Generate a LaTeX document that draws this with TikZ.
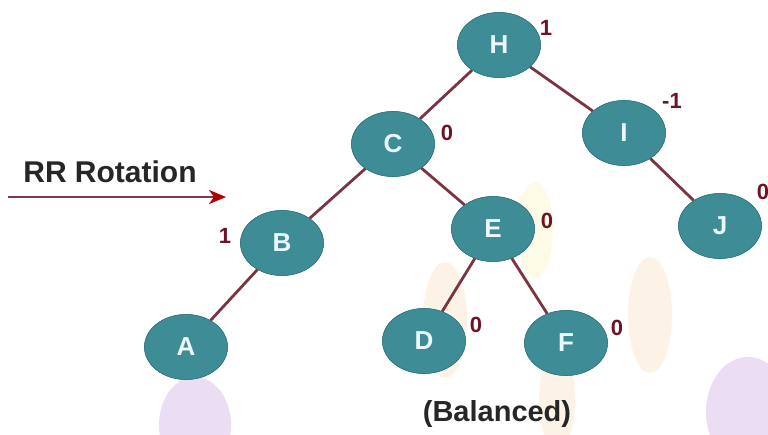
\documentclass[tikz,border=0pt]{standalone}
\usepackage{fontspec}
\setmainfont{Liberation Sans}
\usetikzlibrary{shapes.geometric,arrows.meta}
\definecolor{nodefill}{HTML}{3E8C96}
\definecolor{edgecol}{HTML}{7A3543}
\definecolor{labcol}{HTML}{6E1426}
\definecolor{arrowcol}{HTML}{7C3B4A}
\definecolor{wmorange}{HTML}{FBEEDC}
\definecolor{wmyellow}{HTML}{FDFBE4}
\definecolor{wmpurple}{HTML}{EADDF4}
\tikzset{
  tnode/.style={ellipse, fill=nodefill, draw=nodefill!85!black, line width=0.6pt,
    minimum width=83pt, minimum height=65pt, inner sep=0pt,
    text=white!92!cyan, font=\fontsize{26}{28}\selectfont\bfseries},
  tedge/.style={draw=edgecol, line width=2.8pt},
  bal/.style={text=labcol, font=\fontsize{22}{24}\selectfont\bfseries, inner sep=0pt},
  plain/.style={text=black!85, font=\fontsize{30}{32}\selectfont\bfseries, inner sep=0pt}
}
\begin{document}
\begin{tikzpicture}[x=1pt,y=-1pt]
\useasboundingbox[fill=white] (0,0) rectangle (768,435);
% faint watermark shapes
\fill[wmorange,opacity=0.7] (445,320) ellipse (22 and 58);
\fill[wmorange,opacity=0.7] (557,400) ellipse (18 and 50);
\fill[wmorange,opacity=0.7] (650,315) ellipse (22 and 58);
\fill[wmyellow,opacity=0.9] (535,230) ellipse (18 and 48);
\fill[wmpurple] (195,425) ellipse (36 and 48);
\fill[wmpurple] (748,412) ellipse (42 and 55);
% nodes
\node[tnode] (H) at (499,45) {H};
\node[tnode] (C) at (393,144) {C};
\node[tnode] (I) at (624,133) {I};
\node[tnode] (B) at (282,243) {B};
\node[tnode] (E) at (493,229) {E};
\node[tnode] (J) at (720,226) {J};
\node[tnode] (A) at (186,347) {A};
\node[tnode] (D) at (424,341) {D};
\node[tnode] (F) at (566,343) {F};
% edges
\draw[tedge] (H) -- (C);
\draw[tedge] (H) -- (I);
\draw[tedge] (C) -- (B);
\draw[tedge] (C) -- (E);
\draw[tedge] (I) -- (J);
\draw[tedge] (B) -- (A);
\draw[tedge] (E) -- (D);
\draw[tedge] (E) -- (F);
% redraw nodes on top of edges
\node[tnode] at (H) {H};
\node[tnode] at (C) {C};
\node[tnode] at (I) {I};
\node[tnode] at (B) {B};
\node[tnode] at (E) {E};
\node[tnode] at (J) {J};
\node[tnode] at (A) {A};
\node[tnode] at (D) {D};
\node[tnode] at (F) {F};
% balance factors
\node[bal] (bH) at (546,28) {1};
\node[bal] (bC) at (447,133) {0};
\node[bal] (bI) at (672,101) {-1};
\node[bal] (bB) at (225,236) {1};
\node[bal] (bE) at (547,221) {0};
\node[bal] (bJ) at (763,192) {0};
\node[bal] (bD) at (476,325) {0};
\node[bal] (bF) at (617,328) {0};
% texts
\node[plain] (rr) at (110,172) {RR Rotation};
\node[plain, font=\fontsize{29}{31}\selectfont\bfseries] (balanced) at (497,414) {(Balanced)};
% arrow
\coordinate (a0) at (8,197);
\coordinate (a1) at (226,197);
\draw[draw=arrowcol, line width=2.6pt, -{Stealth[length=17pt,width=14pt,inset=5pt,fill=red!70!black,color=red!70!black]}] (a0) -- (a1);
\end{tikzpicture}
\end{document}
